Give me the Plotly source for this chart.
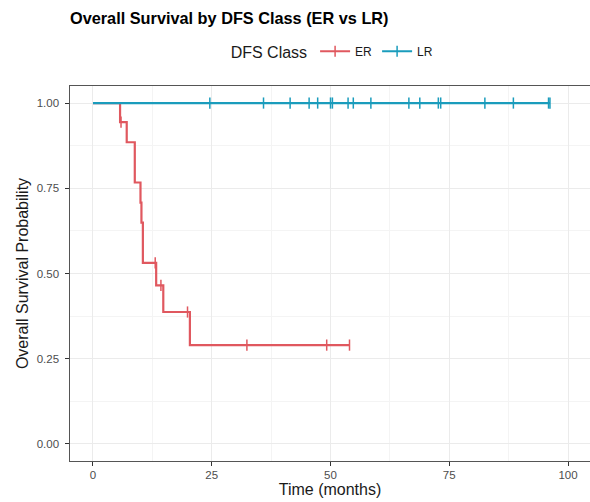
import plotly.graph_objects as go

# ---- data ----
er_step_time = [0, 5.7, 7.1, 8.8, 10.0, 10.2, 10.5, 13.3, 14.8, 20.4, 54.0]
er_step_surv = [1.0, 0.944, 0.885, 0.767, 0.708, 0.649, 0.531, 0.465, 0.387, 0.290, 0.290]
er_censor_time = [5.9, 13.1, 14.3, 19.9, 32.4, 49.2, 54.0]
er_censor_surv = [0.944, 0.531, 0.465, 0.387, 0.290, 0.290, 0.290]

lr_step_time = [0, 96.2]
lr_step_surv = [1.0, 1.0]
lr_censor_time = [24.6, 35.9, 41.5, 45.5, 47.3, 50.0, 50.4, 53.7, 54.8, 58.5,
                  66.5, 68.8, 72.7, 73.2, 82.5, 88.5, 95.9, 96.2]
lr_censor_surv = [1.0] * len(lr_censor_time)

groups = ["ER", "LR"]
colors = {"ER": "#E0585F", "LR": "#1A9CBC"}

x_ticks = [0, 25, 50, 75, 100]
y_ticks = [0.0, 0.25, 0.5, 0.75, 1.0]
y_tick_labels = ["0.00", "0.25", "0.50", "0.75", "1.00"]

FONT = "Liberation Sans, Arial, sans-serif"

fig = go.Figure()

series = {
    "ER": (er_step_time, er_step_surv, er_censor_time, er_censor_surv),
    "LR": (lr_step_time, lr_step_surv, lr_censor_time, lr_censor_surv),
}

for g in groups:
    st, ss, ct, cs = series[g]
    c = colors[g]
    fig.add_trace(go.Scatter(
        x=st, y=ss, mode="lines", line=dict(color=c, width=2.2, shape="hv"),
        showlegend=False, legendgroup=g, hoverinfo="skip"))
    fig.add_trace(go.Scatter(
        x=ct, y=cs, mode="markers",
        marker=dict(symbol="line-ns", size=8, line=dict(color=c, width=1.5)),
        showlegend=False, legendgroup=g))
    # legend key
    fig.add_trace(go.Scatter(
        x=[None], y=[None], mode="lines+markers", name=g, legendgroup=g,
        line=dict(color=c, width=2.2),
        marker=dict(symbol="line-ns", size=8, line=dict(color=c, width=1.5))))

fig.update_layout(
    width=590, height=502,
    margin=dict(l=70, r=0, t=86, b=41, autoexpand=False),
    paper_bgcolor="white", plot_bgcolor="white",
    font=dict(family=FONT, color="#1a1a1a"),
    title=dict(text="<b>Overall Survival by DFS Class (ER vs LR)</b>",
               x=70 / 590, xanchor="left", xref="container",
               y=1 - 18 / 502, yanchor="middle", yref="container",
               font=dict(size=16.3, color="black", family=FONT)),
    legend=dict(orientation="h", x=0.507, xanchor="center", y=1.09, yanchor="middle",
                title=dict(text="DFS Class", side="left", font=dict(size=16, color="#1a1a1a")),
                font=dict(size=12, color="#1a1a1a"),
                itemwidth=30, bgcolor="rgba(0,0,0,0)", tracegroupgap=0),
    xaxis=dict(range=[-4.84, 104.63], tickvals=x_ticks, ticktext=[str(v) for v in x_ticks],
               showgrid=True, gridcolor="#EBEBEB", gridwidth=1.1,
               minor=dict(showgrid=True, gridcolor="#F4F4F4", gridwidth=0.6, dtick=12.5, tick0=0),
               zeroline=False, showline=True, linecolor="#555555", linewidth=1.2, mirror=True,
               ticks="outside", ticklen=3.5, tickwidth=1.1, tickcolor="#333333",
               tickfont=dict(size=11.5, color="#4D4D4D"),
               title=dict(text="Time (months)", font=dict(size=16, color="#1a1a1a"), standoff=3)),
    yaxis=dict(range=[-0.05, 1.05], tickvals=y_ticks, ticktext=y_tick_labels,
               showgrid=True, gridcolor="#EBEBEB", gridwidth=1.1,
               minor=dict(showgrid=True, gridcolor="#F4F4F4", gridwidth=0.6, dtick=0.125, tick0=0),
               zeroline=False, showline=True, linecolor="#555555", linewidth=1.2, mirror=False,
               ticks="outside", ticklen=3.5, tickwidth=1.1, tickcolor="#333333",
               ticklabelstandoff=4,
               tickfont=dict(size=11.5, color="#4D4D4D"),
               title=dict(text="Overall Survival Probability", font=dict(size=16, color="#1a1a1a"),
                          standoff=4)),
)

fig.write_html("out.html", config={"displayModeBar": False},
               post_script="document.body.style.margin='0';document.body.style.padding='0';")
